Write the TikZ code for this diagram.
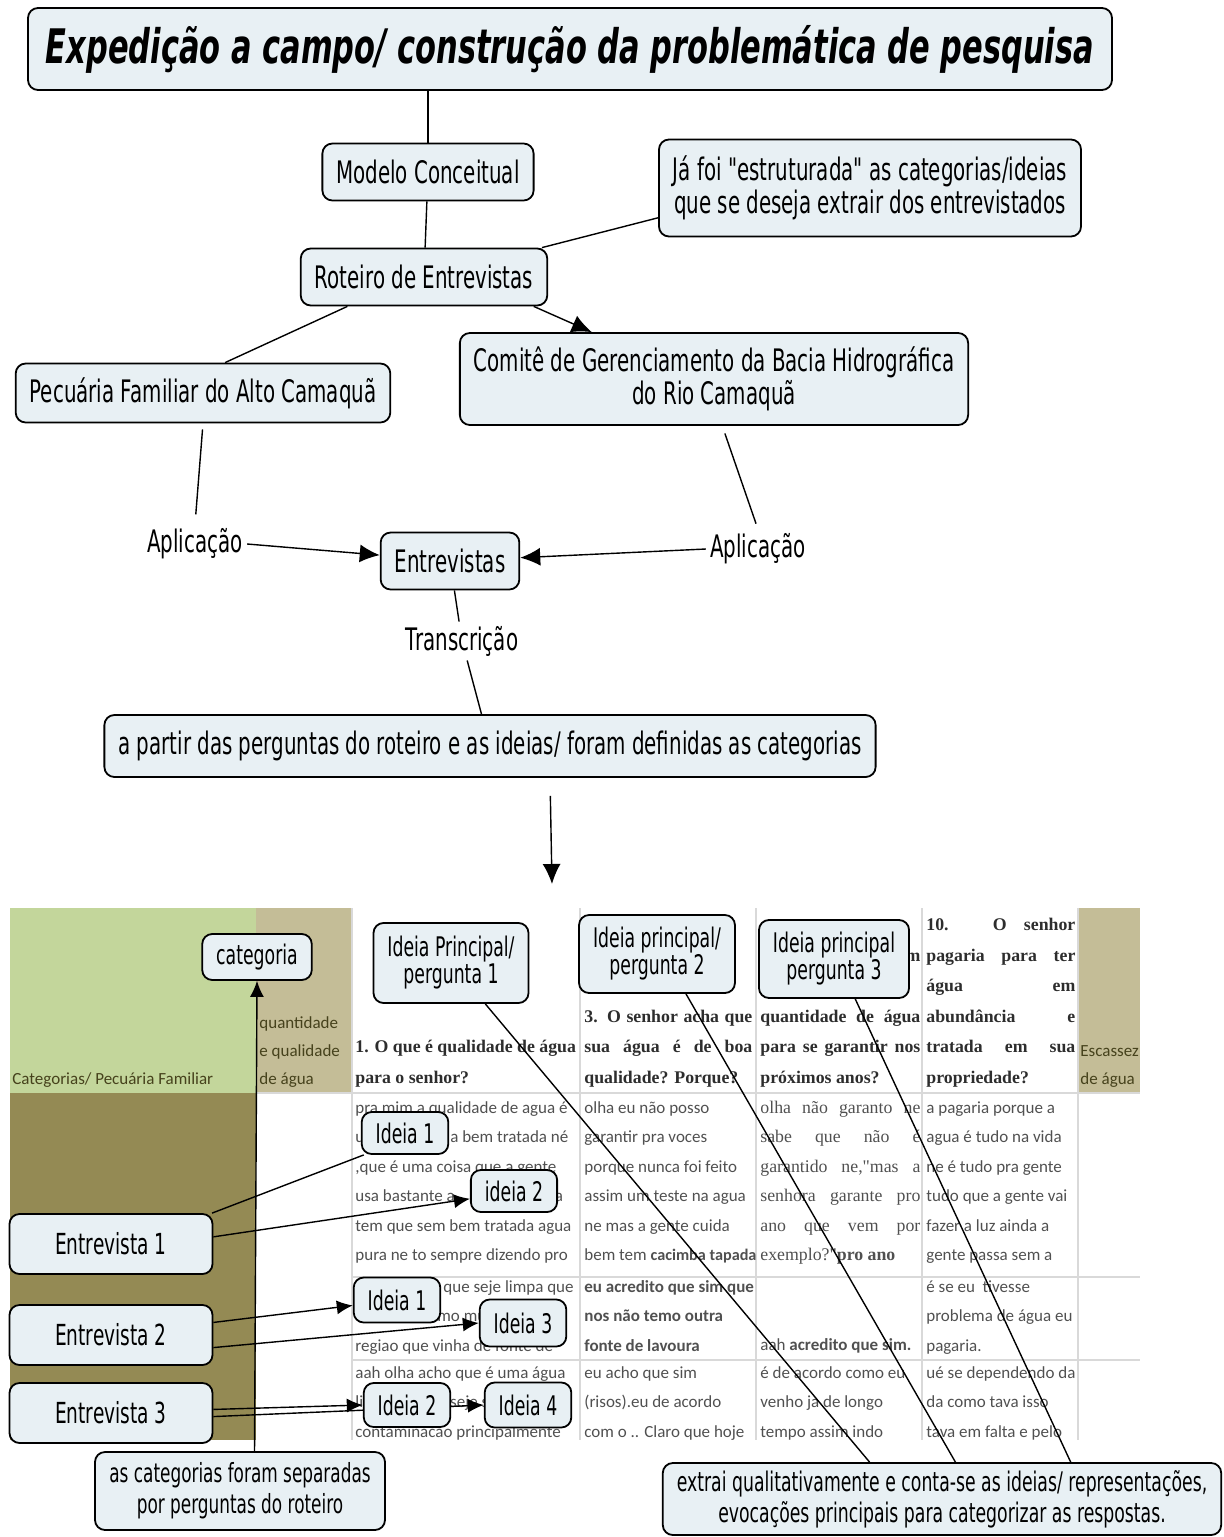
\documentclass[tikz,border=0pt]{standalone}
\usepackage{fontspec}
\setmainfont{DejaVu Sans}[FakeStretch=0.64, Ligatures=TeXOff]
\newfontfamily\cellfont{Carlito}
\newfontfamily\qfont{Liberation Serif}[Ligatures=TeXOff]
\usetikzlibrary{arrows.meta,backgrounds,calc,shapes}
\pgfdeclarelayer{tablelayer}
\pgfdeclarelayer{edgelayer}
\pgfsetlayers{tablelayer,edgelayer,main}
\definecolor{conceptfill}{RGB}{232,240,244}
\definecolor{hdrgreen}{HTML}{C3D69B}
\definecolor{hdrtan}{HTML}{C4BD97}
\definecolor{bodyolive}{HTML}{948A54}
\definecolor{celltext}{RGB}{80,80,80}
\definecolor{qtext}{RGB}{45,45,45}
\definecolor{gridgray}{RGB}{217,217,217}
\definecolor{tanlabel}{RGB}{70,66,28}
\tikzset{
    concept/.style = {draw, rectangle, rounded corners=5pt, fill=conceptfill,
        line width=0.9pt, inner xsep=7pt, inner ysep=5pt,
        minimum height=28.5pt, align=center, font=\fontsize{15.5}{16.5}\selectfont},
    ideabox/.style = {concept, minimum height=21pt, inner ysep=3pt,
        font=\fontsize{13.5}{13.5}\selectfont},
    entrevbox/.style = {concept, minimum width=101.5pt, minimum height=30pt,
        font=\fontsize{14.5}{15}\selectfont},
    linklabel/.style = {inner sep=2pt, font=\fontsize{15.5}{16.5}\selectfont},
    link/.style = {draw, line width=0.7pt},
    arrow/.style = {link, -{Latex[length=10pt,width=9pt]}},
    smallarrow/.style = {link, -{Latex[length=8pt,width=7pt]}},
    cell/.style = {anchor=base west, inner sep=0pt, text=celltext,
        font=\cellfont\fontsize{8.5}{14.75}\selectfont},
    serifcell/.style = {cell, font=\qfont\fontsize{8.9}{14.75}\selectfont},
    qcell/.style = {anchor=base west, inner sep=0pt, text=qtext,
        font=\qfont\bfseries\fontsize{8.9}{15.25}\selectfont},
    tanlbl/.style = {anchor=base west, inner sep=0pt, text=tanlabel,
        font=\cellfont\fontsize{8.5}{14}\selectfont}
}
\newcommand{\jl}[1]{\makebox[\linewidth][s]{#1}}
\newcommand{\cellpar}[2]{\parbox[t]{#1}{#2}}

\begin{document}
\begin{tikzpicture}[x=0.5pt, y=-0.5pt]
    \useasboundingbox (0,0) rectangle (1224,1537);

    % table of the interviews
    \begin{pgfonlayer}{tablelayer}
    \begin{scope}
        \clip (10,908) rectangle (1140,1440);
        \fill[hdrgreen] (10,908) rectangle (256,1093);
        \fill[hdrtan] (256,908) rectangle (352,1093);
        \fill[hdrtan] (1078,908) rectangle (1140,1093);
        \fill[bodyolive] (10,1093) rectangle (256,1440);
        \foreach \x in {352,580,756,922,1078}
            \draw[gridgray, line width=0.6pt] (\x,908) -- (\x,1440);
        \draw[gridgray, line width=0.6pt] (256,1093) -- (1140,1093);
        \foreach \y in {1277,1360}
            \draw[gridgray, line width=0.6pt] (352,\y) -- (1140,\y);
        % header
        \node[tanlbl] (hdrA) at (12,1084) {Categorias/ Pecuária Familiar};
        \node[tanlbl] (hdrB) at (259,1028) {\cellpar{48pt}{quantidade\\e qualidade\\de água}};
        \node[tanlbl] (hdrG) at (1080,1056) {\cellpar{30pt}{Escassez\\de água}};
        \node[qcell] (q1) at (355,1052.5) {\cellpar{120pt}{1. O que é qualidade de água\\para o senhor?}};
        \node[qcell] (q2) at (584,1022) {\cellpar{84pt}{\jl{3. O senhor acha que}\\\jl{sua água é de boa}\\qualidade? Porque?}};
        \node[qcell] (q3) at (760,961) {\cellpar{80pt}{\hfill m\\\hfill e\\\jl{quantidade de água}\\\jl{para se garantir nos}\\próximos anos?}};
        \node[qcell] (q4) at (926,930.5) {\cellpar{74.5pt}{\jl{10. O senhor}\\\jl{pagaria para ter}\\\jl{água em}\\\jl{abundância e}\\\jl{tratada em sua}\\propriedade?}};
        % interview 1
        \node[cell] (c1r1) at (355,1113) {\cellpar{120pt}{pra mim a qualidade de agua é\\u\hspace*{43pt}a bem tratada né\\,que é uma coisa que a gente\\usa bastante a\hspace*{50pt}a\\tem que sem bem tratada agua\\pura ne to sempre dizendo pro}};
        \node[cell] (c2r1) at (584,1113) {\cellpar{95pt}{olha eu não posso\\garantir pra voces\\porque nunca foi feito\\assim um teste na agua\\ne mas a gente cuida\\bem tem {\fontsize{8.1}{14.75}\selectfont\bfseries cacimba tapada}}};
        \node[serifcell] (c3r1) at (760,1113) {\cellpar{80pt}{\jl{olha não garanto ne}\\\jl{sabe que não é}\\\jl{garantido ne,"mas a}\\\jl{senhora garante pro}\\\jl{ano que vem por}\\exemplo?"\textbf{pro ano}}};
        \node[cell] (c4r1) at (926,1113) {\cellpar{85pt}{a pagaria porque a\\agua é tudo na vida\\ne é tudo pra gente\\tudo que a gente vai\\fazer a luz ainda a\\gente passa sem a}};
        % interview 2
        \node[cell] (c1r2) at (355,1292) {\cellpar{120pt}{\hspace*{44pt}que seje limpa que\\\hspace*{41pt}mo mu\\regiao que vinha de fonte de}};
        \node[cell] (c2r2) at (584,1292) {\cellpar{95pt}{\bfseries eu acredito que sim que\\nos não temo outra\\fonte de lavoura}};
        \node[cell] (c3r2) at (760,1350) {aah \textbf{acredito que sim.}};
        \node[cell] (c4r2) at (926,1292) {\cellpar{85pt}{é se eu\ \ tivesse\\problema de água eu\\pagaria.}};
        % interview 3
        \node[cell] (c1r3) at (355,1378) {\cellpar{120pt}{aah olha acho que é uma água\\li\hspace*{43.5pt}seje s\\contaminacao principalmente}};
        \node[cell] (c2r3) at (584,1378) {\cellpar{95pt}{eu acho que sim\\(risos).eu de acordo\\com o .. Claro que hoje}};
        \node[cell] (c3r3) at (760,1378) {\cellpar{85pt}{é de acordo como eu\\venho ja de longo\\tempo assim indo}};
        \node[cell] (c4r3) at (926,1378) {\cellpar{85pt}{ué se dependendo da\\da como tava isso\\tava em falta e pelo}};
    \end{scope}
    \end{pgfonlayer}

    % concept map
    \node [concept, minimum width=542pt, minimum height=41pt, inner xsep=6pt,
        font=\fontsize{23.8}{28}\selectfont\bfseries\itshape] (title) at (570,49)
        {Expedição a campo/ construção da problemática de pesquisa};
    \node [concept] (modelo) at (428,172) {Modelo Conceitual};
    \node [concept, minimum height=48.5pt] (jafoi) at (870,188)
        {Já foi "estruturada" as categorias/ideias\\que se deseja extrair dos entrevistados};
    \node [concept] (roteiro) at (424,277) {Roteiro de Entrevistas};
    \node [concept, minimum height=29.5pt] (pecuaria) at (203,393) {Pecuária Familiar do Alto Camaquã};
    \node [concept, minimum height=46pt] (comite) at (714,379)
        {Comitê de Gerenciamento da Bacia Hidrográfica\\do Rio Camaquã};
    \node [linklabel] (aplicL) at (195,544) {Aplicação};
    \node [concept] (entrev) at (450,561) {Entrevistas};
    \node [linklabel] (aplicR) at (758,549) {Aplicação};
    \node [linklabel] (transc) at (462,641) {Transcrição};
    \node [concept, minimum height=31pt] (apartir) at (490,746)
        {a partir das perguntas do roteiro e as ideias/ foram definidas as categorias};
    \coordinate (tbl) at (552,884);

    % notes over the table
    \node [ideabox, minimum width=50pt, minimum height=23pt] (categ) at (257,957) {categoria};
    \node [ideabox, minimum height=40pt] (p1) at (451,963) {Ideia Principal/\\pergunta 1};
    \node [ideabox, minimum height=39pt] (p2) at (657,954) {Ideia principal/\\pergunta 2};
    \node [ideabox, minimum height=39pt] (p3) at (834,959) {Ideia principal\\pergunta 3};
    \foreach \i/\y in {1/1244,2/1335,3/1413}
        \node [entrevbox] (entr\i) at (111,\y) {Entrevista \i};
    \node [ideabox] (i1a) at (405,1133) {Ideia 1};
    \node [ideabox] (i2a) at (514,1191) {ideia 2};
    \node [ideabox, minimum height=22.5pt] (i1b) at (397,1300) {Ideia 1};
    \node [ideabox, minimum height=23.5pt] (i3) at (523,1323) {Ideia 3};
    \node [ideabox, minimum height=22pt] (i2b) at (407,1405) {Ideia 2};
    \node [ideabox, minimum height=22.5pt] (i4) at (528,1405) {Ideia 4};
    \node [ideabox, minimum width=145pt, minimum height=39pt,
        font=\fontsize{13.2}{15.5}\selectfont] (ascat) at (240,1491)
        {as categorias foram separadas\\por perguntas do roteiro};
    \node [ideabox, minimum width=272pt, minimum height=36pt,
        font=\fontsize{13.5}{15.5}\selectfont] (extrai) at (942,1499)
        {extrai qualitativamente e conta-se as ideias/ representações,\\evocações principais para categorizar as respostas.};

    \begin{pgfonlayer}{edgelayer}
        \draw [link] (modelo.north) -- (modelo.north |- title.south);
        \draw [link] (modelo) -- (roteiro);
        \draw [link] (jafoi.-172) -- (roteiro.14);
        \draw [link] (roteiro.201) -- (pecuaria.54);
        \draw [arrow] (roteiro.-15) -- (comite.159);
        \draw [link, shorten <=3pt, shorten >=5pt] (pecuaria.south) -- (aplicL.north);
        \draw [arrow] (aplicL.east) -- (entrev);
        \draw [link, shorten <=4pt, shorten >=3pt] (comite.-80) -- (aplicR.north);
        \draw [arrow] (aplicR.west) -- (entrev);
        \draw [link] (entrev) -- (transc);
        \draw [link] (transc) -- (apartir);
        \draw [arrow, shorten <=9pt] (apartir.-28) -- (tbl);
        % table notes
        \draw [smallarrow] (ascat.70) -- (categ.south);
        \draw [link] (p1.-50) -- (extrai.153);
        \draw [link] (p2.-54) -- (extrai.70);
        \draw [link] (p3.-62) -- (extrai.16);
        \draw [link] (entr1.17) -- (i1a.208);
        \draw [smallarrow] (entr1.4) -- (i2a.190);
        \draw [smallarrow] (entr2.7) -- (i1b.187);
        \draw [smallarrow] (entr2.-7) -- (i3.west);
        \draw [smallarrow] (entr3.2) -- (i2b.west);
        \draw [smallarrow] (entr3.-2) -- (i4.west);
    \end{pgfonlayer}
\end{tikzpicture}
\end{document}
